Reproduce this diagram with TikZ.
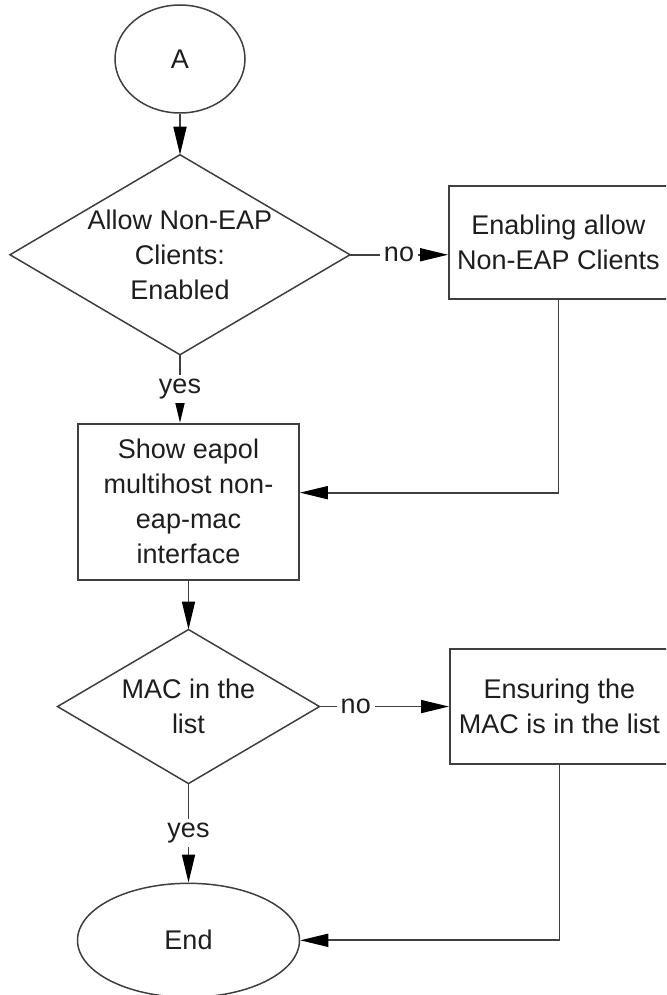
\documentclass[tikz,border=0pt]{standalone}
\usepackage{fontspec}
\setmainfont{Liberation Sans}
\usetikzlibrary{arrows.meta,positioning,shapes.geometric}
\definecolor{Ink}{HTML}{1E1E1E}
\definecolor{Edge}{HTML}{3F3F3F}
\tikzset{
  term/.style={ellipse,draw=Edge,line width=.75pt,inner sep=0pt,align=center},
  decide/.style={diamond,draw=Edge,line width=.75pt,inner sep=0pt,outer sep=0pt,align=center,shape aspect=1.7},
  task/.style={rectangle,draw=Edge,line width=.9pt,inner sep=0pt,align=center},
  flow/.style={-{Triangle[length=14pt,width=6.5pt,color=black]},draw=Edge,line width=.85pt},
  lbl/.style={fill=white,inner sep=2pt,text=Ink}
}
\begin{document}
\begin{tikzpicture}[x=.5pt,y=-.5pt,node distance=0pt,font=\fontsize{13.5}{17.5}\selectfont,text=Ink]
  \useasboundingbox (0,0) rectangle (666,995);
  \clip (0,0) rectangle (666,995);
  \node[term,minimum width=65pt,minimum height=54pt] (A) at (180,59) {A};
  \node[decide,minimum width=170pt,minimum height=100pt,below=20.5pt of A] (nonEap) {Allow Non-EAP\\Clients:\\Enabled};
  \node[task,minimum width=109.5pt,minimum height=56.5pt,right=49pt of nonEap,yshift=6.25pt] (enable) {Enabling allow\\Non-EAP Clients};
  \node[task,minimum width=110.5pt,minimum height=78pt,below=34pt of nonEap,xshift=4.25pt] (show) {Show eapol\\multihost non-\\eap-mac\\interface};
  \node[decide,minimum width=131pt,minimum height=77pt,below=24.5pt of show] (inList) {MAC in the\\list};
  \node[task,minimum width=109.5pt,minimum height=57.5pt,right=64.75pt of inList] (ensure) {Ensuring the\\MAC is in the list};
  \node[term,minimum width=111pt,minimum height=57pt,below=49.5pt of inList] (End) {End};

  \draw[flow] (A) -- (nonEap);
  \draw[flow] (nonEap.east) -- node[lbl]{no} (nonEap.east -| enable.west);
  \draw[flow] (nonEap.south) -- node[lbl]{yes} (nonEap.south |- show.north);
  \draw[flow] (enable.south) |- ([yshift=4.5pt]show.east);
  \draw[flow] (show) -- (inList);
  \draw[flow] (inList.east) -- node[lbl,pos=.28]{no} (inList.east -| ensure.west);
  \draw[flow] (inList.south) -- node[lbl]{yes} (End.north);
  \draw[flow] (ensure.south) |- (End.east);
\end{tikzpicture}
\end{document}
